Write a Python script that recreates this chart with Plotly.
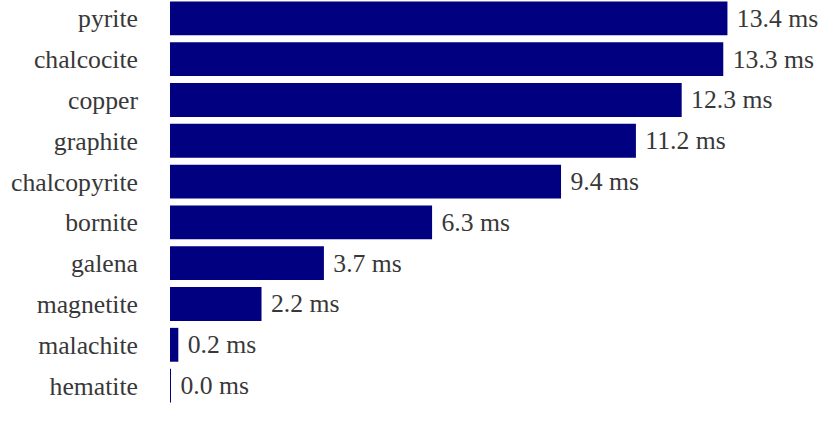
import plotly.graph_objects as go

# Timings per mineral, listed bottom-to-top as drawn
minerals = ["hematite", "malachite", "magnetite", "galena", "bornite",
            "chalcopyrite", "graphite", "copper", "chalcocite", "pyrite"]
times_ms = [0.006, 0.2, 2.2, 3.7, 6.3, 9.4, 11.2, 12.3, 13.3, 13.4]

FONT = "Liberation Serif, Times New Roman, serif"
TEXT_COLOR = "#383838"
SIZE = 25.7

fig = go.Figure(
    go.Bar(
        x=times_ms,
        y=minerals,
        orientation="h",
        marker=dict(color="#000080", line=dict(width=0)),
        texttemplate="\u00a0%{x:.1f} ms",
        textposition="outside",
        textfont=dict(family=FONT, size=SIZE, color=TEXT_COLOR),
        cliponaxis=False,
    )
)

fig.update_layout(
    width=833,
    height=434,
    margin=dict(l=170, r=39, t=0, b=28),
    paper_bgcolor="white",
    plot_bgcolor="white",
    bargap=0.17,
    showlegend=False,
    font=dict(family=FONT, size=SIZE, color=TEXT_COLOR),
    uniformtext=dict(minsize=SIZE, mode="show"),
)
fig.update_xaxes(range=[0, 15], visible=False)
fig.update_yaxes(
    range=[-0.5, 9.45],
    showgrid=False,
    showline=False,
    zeroline=False,
    ticks="",
    ticklabelstandoff=31,
    tickfont=dict(family=FONT, size=SIZE, color=TEXT_COLOR),
)

fig.write_html("out.html")
